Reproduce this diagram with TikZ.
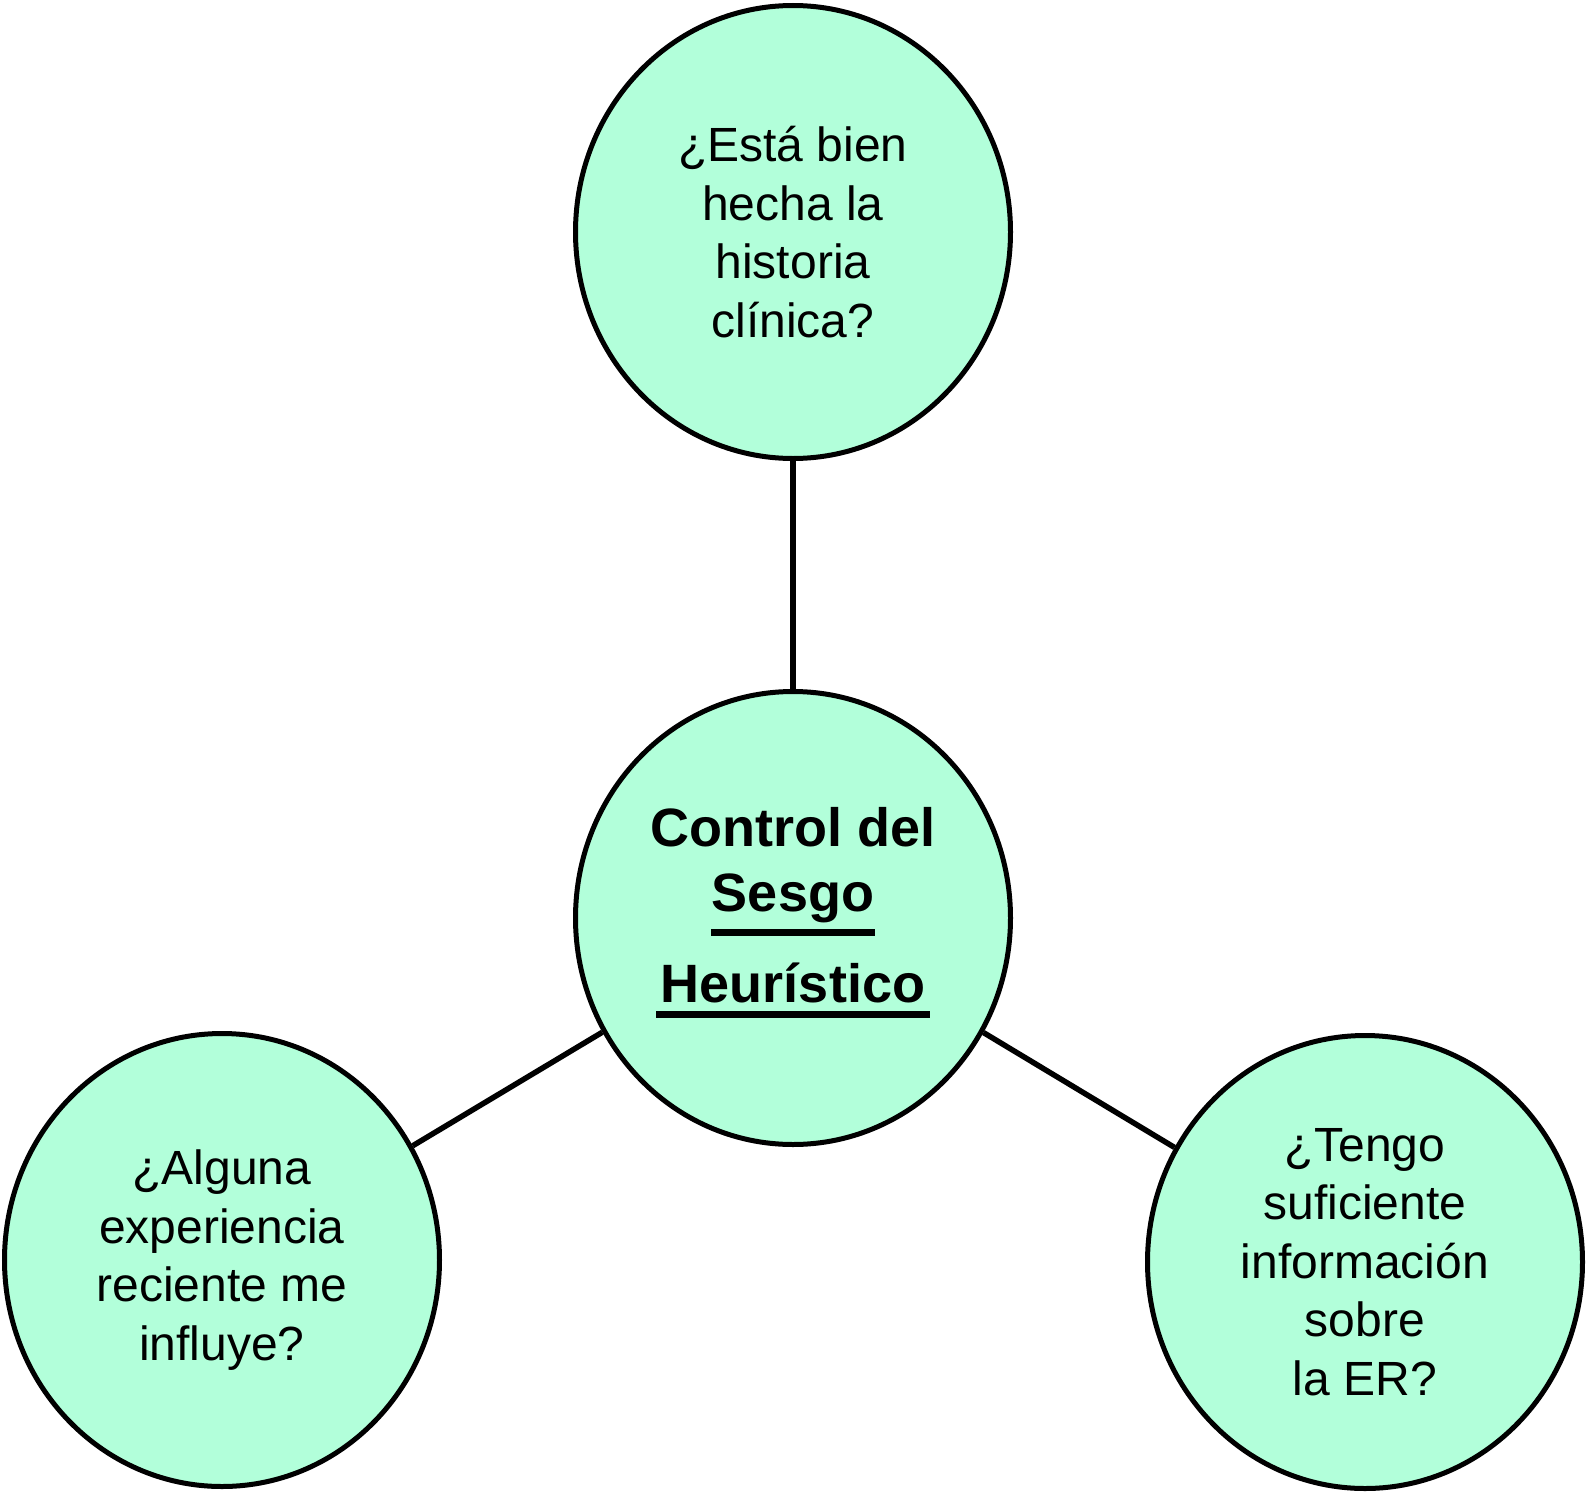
\documentclass[tikz,border=0pt]{standalone}
\usepackage{fontspec}
\setmainfont{Liberation Sans}
\usetikzlibrary{shapes.geometric}
\definecolor{mint}{RGB}{178,255,218}
\newcommand\ulword[3]{\setbox0\hbox{#3}\rlap{\kern-#2\rule[#1]{\dimexpr\wd0+#2+#2\relax}{7pt}}\box0}
\begin{document}
\begin{tikzpicture}[x=1pt,y=-1pt,
  bub/.style={ellipse,draw=black,line width=5pt,fill=mint,minimum width=435pt,minimum height=453pt,inner sep=0pt,align=center,
    font=\fontsize{48}{58.5}\selectfont},
  link/.style={line width=5.5pt,draw=black}]
\useasboundingbox (0,0) rectangle (1590,1493);
\node[bub] (t) at (793,232) {¿Está bien\\hecha la\\historia\\clínica?};
\node[bub,font=\bfseries\fontsize{54}{65}\selectfont] (c) at (793,918)
  {Control del\\\ulword{-24.5pt}{1pt}{Sesgo}\\[26pt]\ulword{-15.5pt}{5pt}{Heurístico}\rule[-26pt]{0pt}{1pt}};
\node[bub] (l) at (222,1260) {¿Alguna\\experiencia\\reciente me\\influye?};
\node[bub] (r) at (1365,1262) {¿Tengo\\suficiente\\información\\sobre\\la ER?};
\draw[link] (t) -- (c);
\draw[link] (c) -- (l);
\draw[link] (c) -- (r);
\end{tikzpicture}
\end{document}
